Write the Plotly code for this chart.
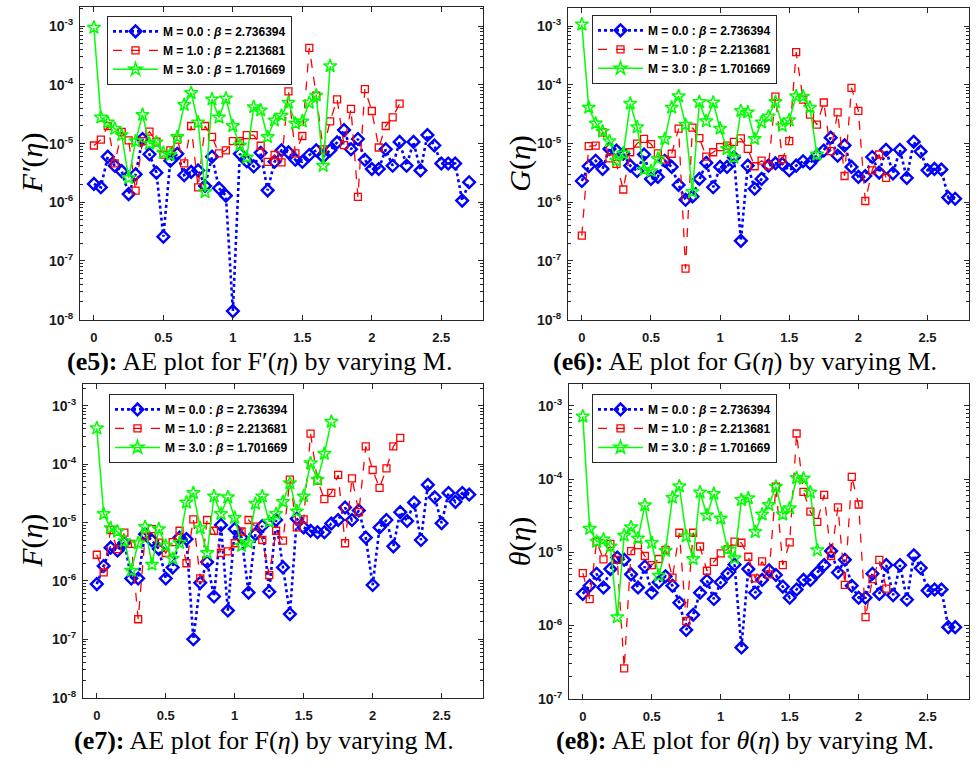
import plotly.graph_objects as go

# ---------------- data ----------------
ETA = [0, 0.05, 0.1, 0.15, 0.2, 0.25, 0.3, 0.35, 0.4, 0.45, 0.5, 0.55, 0.6, 0.65, 0.7, 0.75,
       0.8, 0.85, 0.9, 0.95, 1.0, 1.05, 1.1, 1.15, 1.2, 1.25, 1.3, 1.35, 1.4, 1.45, 1.5, 1.55,
       1.6, 1.65, 1.7, 1.75, 1.8, 1.85, 1.9, 1.95, 2.0, 2.05, 2.1, 2.15, 2.2, 2.25, 2.3, 2.35,
       2.4, 2.45, 2.5, 2.55, 2.6, 2.65, 2.7]

LEGEND_NAMES = ["M = 0.0 : <i>β</i> = 2.736394",
                "M = 1.0 : <i>β</i> = 2.213681",
                "M = 3.0 : <i>β</i> = 1.701669"]

# (e5) F'(eta)
FP_M0 = [2.06e-6, 1.8e-6, 6e-6, 4.2e-6, 3.4e-6, 1.38e-6, 3e-6, 1.2e-5, 6.6e-6, 3.2e-6, 2.6e-7,
         5.1e-6, 6.7e-6, 2.9e-6, 3.3e-6, 3.5e-6, 1.9e-6, 6e-6, 1.74e-6, 1.3e-6, 1.4e-8, 6.7e-6,
         5e-6, 4.1e-6, 7e-6, 1.6e-6, 4.9e-6, 7.7e-6, 7.1e-6, 5.3e-6, 4.9e-6, 6.4e-6, 7.7e-6, 6e-6,
         7.7e-6, 1.05e-5, 1.7e-5, 8e-6, 1.2e-5, 5.3e-6, 3.7e-6, 3.7e-6, 8e-6, 4.2e-6, 1.07e-5,
         4.2e-6, 1.07e-5, 3.5e-6, 1.4e-5, 9.3e-6, 4.6e-6, 4.6e-6, 4.6e-6, 1.07e-6, 2.2e-6]
FP_M1 = [9.3e-6, 1.17e-5, 2e-5, 4.6e-6, 1.58e-5, 1.14e-5, 1.58e-6, 1.1e-5, 1.6e-5, 1.08e-5, 6.5e-6,
         7.7e-6, 1.17e-5, 4.6e-6, 2e-5, 1.8e-6, 2e-5, 1.3e-5, 6.8e-6, 7.7e-6, 1.1e-5, 1.1e-5,
         1.4e-5, 1.4e-5, 9.2e-6, 4.9e-6, 6.4e-6, 4.8e-6, 7.8e-5, 6.8e-6, 1.35e-5, 4.3e-4, 6.6e-5,
         8e-6, 2.4e-5, 5.7e-5, 9.4e-6, 3.9e-5, 1.24e-6, 8.5e-5, 3.6e-5, 8.6e-6, 2e-5, 2.8e-5, 4.8e-5]
FP_M3 = [9.5e-4, 2.8e-5, 2.3e-5, 1.8e-5, 1.4e-5, 2.6e-6, 1.1e-5, 3.1e-5, 1e-5, 1.05e-5, 7e-6,
         6.4e-6, 1.3e-5, 4.6e-5, 7.3e-5, 2.3e-5, 1.5e-6, 5.7e-5, 2.8e-5, 5.9e-5, 2e-5, 9.3e-6,
         5.8e-6, 4.2e-5, 3.7e-5, 1.3e-5, 2.5e-5, 3e-5, 5e-5, 2.2e-5, 2.4e-5, 5e-5, 6.6e-5, 4.2e-6, 2.1e-4]

# (e6) G(eta)
G_M0 = [2.3e-6, 4.1e-6, 5.1e-6, 3.7e-6, 8.1e-6, 7.6e-6, 6.7e-6, 4.2e-6, 3.4e-6, 6.5e-6, 2.5e-6,
        2.7e-6, 5.1e-6, 4e-6, 1.97e-6, 1.1e-6, 1.25e-6, 2.5e-6, 4.7e-6, 1.8e-6, 4e-6, 4e-6, 5.8e-6,
        2.2e-7, 4.2e-6, 1.7e-6, 2.5e-6, 4.2e-6, 4.6e-6, 4.5e-6, 3.5e-6, 4.2e-6, 5e-6, 4.6e-6,
        6.2e-6, 7.6e-6, 1.26e-5, 6.2e-6, 9.3e-6, 4e-6, 2.7e-6, 2.8e-6, 5.9e-6, 3.2e-6, 7.8e-6,
        3.1e-6, 7.8e-6, 2.6e-6, 1.07e-5, 7.3e-6, 3.5e-6, 3.7e-6, 3.6e-6, 1.2e-6, 1.15e-6]
G_M1 = [2.7e-7, 9e-6, 9.2e-6, 1.55e-5, 5.6e-6, 4.5e-6, 1.65e-6, 7.1e-6, 1e-5, 1.2e-5, 9.8e-6,
        6.8e-6, 5.3e-6, 6.7e-6, 1.8e-5, 7.4e-8, 1.87e-5, 1.24e-5, 6e-6, 7.1e-6, 8.7e-6, 9.2e-6,
        1.07e-5, 1.22e-5, 8.1e-6, 4.1e-6, 5.1e-6, 4.2e-6, 6.3e-5, 5.4e-6, 1.1e-5, 3.6e-4, 5.6e-5,
        3.1e-5, 2.1e-5, 5e-5, 7.4e-6, 3.4e-5, 2.8e-6, 8.9e-5, 3.6e-5, 1.05e-6, 3.5e-6, 6.5e-6, 2.6e-6]
G_M3 = [1.07e-3, 4.1e-5, 2.2e-5, 1.6e-5, 1.1e-5, 5.1e-6, 6.8e-6, 4.8e-5, 1.9e-5, 3.6e-6, 3.4e-6,
        5.5e-6, 1.2e-5, 4.1e-5, 6.4e-5, 2.1e-5, 1.5e-6, 5.1e-5, 2.4e-5, 5e-5, 1.8e-5, 8.1e-6,
        5.8e-6, 3.6e-5, 3.4e-5, 1.2e-5, 2.3e-5, 2.9e-5, 5.1e-5, 2e-5, 2.5e-5, 6.4e-5, 6.3e-5, 4.1e-5, 6.5e-6]

# (e7) F(eta)
F_M0 = [8.8e-7, 1.8e-6, 3.7e-6, 3.3e-6, 4.5e-6, 1.1e-6, 1.1e-6, 6.3e-6, 4.9e-6, 3.5e-6, 1.1e-6,
        1.7e-6, 5.5e-6, 5.2e-6, 1e-7, 9.3e-7, 2.1e-6, 5.4e-7, 9e-6, 3.1e-7, 7.7e-6, 5.5e-6, 6.3e-7,
        6.3e-6, 8.7e-6, 6.5e-7, 1.1e-5, 1.7e-6, 2.7e-7, 1.16e-5, 8.2e-6, 7.2e-6, 6.8e-6, 6.8e-6,
        9.6e-6, 1.1e-5, 1.8e-5, 1.1e-5, 1.6e-5, 5.5e-6, 8.5e-7, 8.2e-6, 1.1e-5, 3.9e-6, 1.5e-5,
        1.06e-5, 2.2e-5, 5e-6, 4.4e-5, 2.7e-5, 9.7e-6, 3.2e-5, 2.25e-5, 3.2e-5, 3e-5]
F_M1 = [2.8e-6, 1.4e-6, 7.4e-6, 3.5e-6, 6.7e-6, 4.3e-6, 2.2e-7, 5.7e-6, 7.7e-6, 4.5e-6, 3e-6,
        4.6e-6, 7.2e-6, 2e-6, 1.13e-5, 1.1e-6, 1.1e-5, 7.2e-6, 3e-6, 3.2e-6, 4.4e-6, 7e-6, 1.1e-5,
        8.5e-6, 5e-6, 1.25e-6, 7.2e-6, 4.9e-6, 5.4e-5, 8.2e-6, 1.13e-5, 3.3e-4, 5.2e-5, 2.5e-5,
        3.2e-5, 6.5e-5, 4.4e-6, 5.7e-5, 1.5e-5, 2e-4, 7.9e-5, 3.9e-5, 8.4e-5, 2e-4, 2.8e-4]
F_M3 = [4.1e-4, 1.4e-5, 8e-6, 7e-6, 4.8e-6, 1.5e-6, 4.4e-6, 8.4e-6, 1.9e-6, 7.7e-6, 4e-6, 2.4e-6,
        4.5e-6, 2.2e-5, 3.2e-5, 8e-6, 3e-6, 2.8e-5, 1.4e-5, 2.7e-5, 1.2e-5, 4e-6, 4.5e-6, 2.1e-5,
        2.8e-5, 1.03e-5, 1.4e-5, 2.25e-5, 4.7e-5, 1.55e-5, 2.8e-5, 1.03e-4, 5.4e-5, 1.5e-4, 5.3e-4]

# (e8) theta(eta)
T_M0 = [2.7e-6, 3.5e-6, 5.1e-6, 3.3e-6, 5.9e-6, 8.5e-6, 7.9e-6, 5e-6, 3.3e-6, 6.4e-6, 2.8e-6,
        3.9e-6, 4.7e-6, 3.5e-6, 2.05e-6, 8.7e-7, 1.4e-6, 2.8e-6, 4.1e-6, 2.3e-6, 3.9e-6, 5.1e-6,
        6.8e-6, 5e-7, 5.9e-6, 2.8e-6, 4.2e-6, 5.7e-6, 4.9e-6, 3.4e-6, 2.4e-6, 3.1e-6, 4.2e-6,
        4.2e-6, 5.3e-6, 6.7e-6, 1.04e-5, 5.3e-6, 7.9e-6, 3.5e-6, 2.4e-6, 2.4e-6, 5.1e-6, 2.7e-6,
        6.7e-6, 2.6e-6, 6.7e-6, 2.25e-6, 9.1e-6, 6.1e-6, 3e-6, 3.1e-6, 3.1e-6, 9.5e-7, 9.5e-7]
T_M1 = [5.2e-6, 2.3e-6, 1.4e-5, 8e-6, 1.3e-5, 7.9e-6, 2.6e-7, 1.04e-5, 1.25e-5, 8.9e-6, 6.7e-6,
        8.1e-6, 1.08e-5, 4.5e-6, 1.85e-5, 1.15e-6, 1.85e-5, 1.2e-5, 5.6e-6, 7.4e-6, 9.7e-6, 1.1e-5,
        1.4e-5, 1.35e-5, 8.7e-6, 4.4e-6, 7.5e-6, 5e-6, 7.9e-5, 6.7e-6, 1.37e-5, 4.2e-4, 6.7e-5,
        3.6e-5, 2.6e-5, 6.1e-5, 8.9e-6, 4.1e-5, 3.6e-6, 1.07e-4, 4.5e-5, 1.3e-6, 4.3e-6, 7.9e-6, 3.2e-6]
T_M3 = [7.2e-4, 2.1e-5, 1.4e-5, 1.5e-5, 1.2e-5, 1.3e-6, 1.7e-5, 2.2e-5, 1.55e-5, 4.4e-5, 1.35e-5,
        4.8e-6, 1.05e-5, 5.6e-5, 8e-5, 1.66e-5, 8.1e-6, 6.6e-5, 3.2e-5, 6.3e-5, 2.9e-5, 1.1e-5,
        8.3e-6, 5.2e-5, 5.5e-5, 1.9e-5, 3.3e-5, 4.45e-5, 7.9e-5, 3.3e-5, 4e-5, 1.04e-4, 1.02e-4,
        6.6e-5, 1.07e-5]

X_TICKS = [0, 0.5, 1, 1.5, 2, 2.5]
X_TICK_LABELS = ["0", "0.5", "1", "1.5", "2", "2.5"]

# ---------------- figure ----------------
W, H = 977, 773
AX = "#262626"

panels = [
    dict(series=[FP_M0, FP_M1, FP_M3], ytitle="<i>F′</i>(<i>η</i>)",
         caption="<b>(e5):</b> AE plot for F′(<i>η</i>) by varying M.",
         px=(80, 483), py=(7, 323), yr=(-8, -2.67), dec=(-8, -3),
         leg=(107, 16), ytx=32, cap=(259, 365)),
    dict(series=[G_M0, G_M1, G_M3], ytitle="<i>G</i>(<i>η</i>)",
         caption="<b>(e6):</b> AE plot for G(<i>η</i>) by varying M.",
         px=(568, 969), py=(8, 323), yr=(-8, -2.69), dec=(-8, -3),
         leg=(592, 15), ytx=520, cap=(745, 365)),
    dict(series=[F_M0, F_M1, F_M3], ytitle="<i>F</i>(<i>η</i>)",
         caption="<b>(e7):</b> AE plot for F(<i>η</i>) by varying M.",
         px=(83, 483), py=(388, 705), yr=(-8, -2.63), dec=(-8, -3),
         leg=(109, 398), ytx=32, cap=(264, 748)),
    dict(series=[T_M0, T_M1, T_M3], ytitle="<i>θ</i>(<i>η</i>)",
         caption="<b>(e8):</b> AE plot for <i>θ</i>(<i>η</i>) by varying M.",
         px=(569, 969), py=(388, 706), yr=(-7, -2.70), dec=(-7, -3),
         leg=(592, 398), ytx=520, cap=(745, 748)),
]

styles = [
    dict(line=dict(color="#0000FF", width=2.6, dash="dot"),
         marker=dict(symbol="diamond-open", size=9, color="#0000FF", line=dict(width=2.4, color="#0000FF"))),
    dict(line=dict(color="#FF0000", width=1.3, dash="dash"),
         marker=dict(symbol="square-open", size=7, color="#FF0000", line=dict(width=1.3, color="#FF0000"))),
    dict(line=dict(color="#00FF00", width=1.5, dash="solid"),
         marker=dict(symbol="star-open", size=10, color="#00FF00", line=dict(width=1.5, color="#00FF00"))),
]

fig = go.Figure()
layout = dict(width=W, height=H, margin=dict(l=0, r=0, t=0, b=0),
              paper_bgcolor="white", plot_bgcolor="white", annotations=[])

xtickfont = dict(family="Liberation Sans, Arial, sans-serif", size=13, color="#1a1a1a", weight="bold")
ytickfont = dict(family="Liberation Sans, Arial, sans-serif", size=14, color="#1a1a1a", weight="bold")

for i, p in enumerate(panels):
    n = "" if i == 0 else str(i + 1)
    xa, ya = "x" + n, "y" + n
    legname = "legend" + n
    for s, (vals, st) in enumerate(zip(p["series"], styles)):
        fig.add_trace(go.Scatter(x=ETA[:len(vals)], y=vals, mode="lines+markers",
                                 name=LEGEND_NAMES[s], xaxis=xa, yaxis=ya, legend=legname,
                                 line=st["line"], marker=st["marker"], showlegend=True))
    d0, d1 = p["dec"]
    majors = [10.0 ** d for d in range(d0, d1 + 1)]
    labels = ["10<sup>%d</sup>" % d for d in range(d0, d1 + 1)]
    minors = [k * 10.0 ** d for d in range(d0, d1 + 1) for k in range(2, 10)]
    x0, x1 = p["px"]
    y0, y1 = p["py"]
    layout["xaxis" + n] = dict(
        domain=[x0 / W, x1 / W], range=[-0.1, 2.8], anchor=ya,
        tickmode="array", tickvals=X_TICKS, ticktext=X_TICK_LABELS,
        ticks="inside", ticklen=5, tickcolor=AX, showline=True, linecolor=AX, linewidth=1,
        mirror="ticks", showgrid=False, zeroline=False, tickfont=xtickfont,
        ticklabelstandoff=6)
    layout["yaxis" + n] = dict(
        domain=[1 - y1 / H, 1 - y0 / H], type="log", range=list(p["yr"]), anchor=xa,
        tickmode="array", tickvals=majors, ticktext=labels,
        ticks="inside", ticklen=5, tickcolor=AX, showline=True, linecolor=AX, linewidth=1,
        mirror="ticks", showgrid=False, zeroline=False, tickfont=ytickfont,
        ticklabelstandoff=3,
        minor=dict(tickmode="array", tickvals=minors, ticks="inside", ticklen=3,
                   tickcolor=AX, showgrid=False))
    lx, ly = p["leg"]
    layout[legname] = dict(x=lx / W, y=1 - ly / H, xanchor="left", yanchor="top",
                           xref="paper", yref="paper",
                           bgcolor="white", bordercolor=AX, borderwidth=1,
                           font=dict(family="Liberation Sans, Arial, sans-serif", size=12,
                                     color="black", weight="bold"),
                           itemwidth=45, tracegroupgap=0)
    # y-axis title
    layout["annotations"].append(dict(
        text=p["ytitle"], x=p["ytx"] / W, y=1 - (y0 + y1) / 2 / H, xref="paper", yref="paper",
        showarrow=False, textangle=-90, xanchor="center", yanchor="middle",
        font=dict(family="Liberation Serif, Times New Roman, serif", size=30, color="black")))
    # caption
    cx, cy = p["cap"]
    layout["annotations"].append(dict(
        text=p["caption"], x=cx / W, y=1 - cy / H, xref="paper", yref="paper",
        showarrow=False, xanchor="center", yanchor="middle",
        font=dict(family="Liberation Serif, Times New Roman, serif", size=26, color="black")))

fig.update_layout(**layout)
fig.write_html("out.html")
